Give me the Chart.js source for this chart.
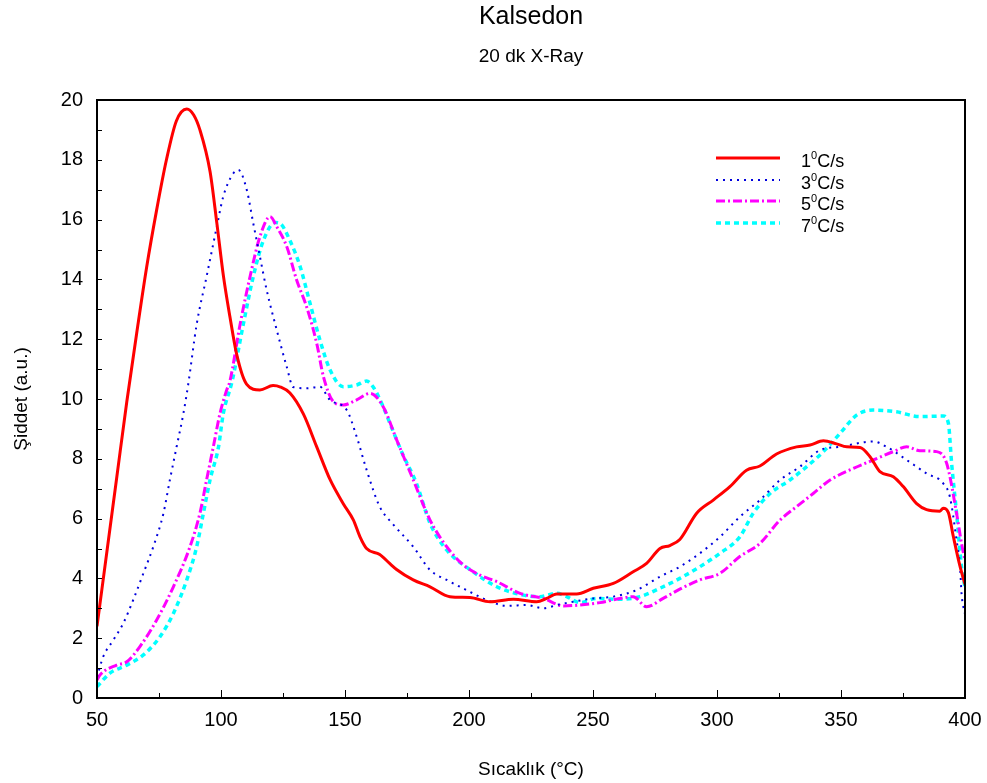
<!DOCTYPE html>
<html>
<head>
<meta charset="utf-8">
<title>Kalsedon</title>
<script src="https://cdn.jsdelivr.net/npm/chart.js@4.4.1/dist/chart.umd.min.js"></script>
<style>
    html, body { margin: 0; padding: 0; background: #fff; }
    #wrap { width: 987px; height: 783px; }
</style>
</head>
<body>
<div id="wrap"><canvas id="tlChart" width="987" height="783"></canvas></div>
<script>
// Heating rates (legend labels: number, then superscript 0, then C/s)
const RATES = ['1', '3', '5', '7'];

// 1 C/s
const redT = [50, 54, 58, 62, 66, 70, 74, 78, 82, 86.2, 89, 91.5, 95.6, 98.3, 101, 103.6, 106.3, 110.3, 115.7,
    121, 124, 127.8, 133.2, 138.6, 144, 149.3, 153.4, 156, 158.7, 164, 168, 170.8, 177.5, 184.3, 192.3, 200.4, 208.5, 217.9, 227.3,
    231.3, 235.4, 243.4, 250.1, 258.2, 266.2, 271.6, 277, 281, 285, 291.8, 298.5, 305.2, 311.9, 317.3, 324, 332.1, 337.5, 342.9, 348.2,
    352.3, 357.7, 361.7, 365.7, 371.1, 375.1, 380.5, 384.5, 389.9, 391.2, 393.3, 395.3, 398, 400];
const redI = [2.4, 4.9, 7.4, 9.9, 12.2, 14.4, 16.3, 18.0, 19.3, 19.7, 19.5, 19.0, 17.6, 15.9, 14.1, 12.75, 11.5, 10.5, 10.3,
    10.45, 10.4, 10.2, 9.5, 8.4, 7.3, 6.5, 5.95, 5.4, 5.0, 4.8, 4.5, 4.3, 3.95, 3.72, 3.39, 3.36, 3.22, 3.3, 3.22,
    3.33, 3.48, 3.48, 3.67, 3.83, 4.22, 4.5, 5.0, 5.1, 5.3, 6.18, 6.62, 7.07, 7.62, 7.76, 8.16, 8.4, 8.46, 8.6, 8.5,
    8.4, 8.38, 8.07, 7.57, 7.4, 7.07, 6.5, 6.3, 6.25, 6.35, 6.2, 5.4, 4.4, 3.8];

// 3 C/s
const blueT = [50, 52.5, 56.6, 60.6, 64.6, 68.7, 72.7, 76.8, 79.4, 82.1, 84.8, 86.8, 90.2, 94.2, 98.3, 100.9, 105, 107, 110.4, 113,
    115.7, 118.4, 122.5, 126.5, 129.1, 134.5, 139.9, 143.9, 150.7, 154.7, 158.7, 164, 169.5, 177.5, 184.3, 191, 199, 207.1, 215.2, 223.2,
    230, 235.4, 242.1, 250.1, 258.2, 267.6, 277, 285, 293.1, 301.2, 309.2, 317.3, 325.4, 333.5, 341.5, 349.6, 363, 368.4, 376.5, 384.5,
    391.2, 393.9, 396.6, 398, 398.6, 400];
const blueI = [0.7, 1.38, 1.94, 2.5, 3.28, 4.17, 5.06, 6.18, 7.3, 8.4, 9.5, 10.5, 12.5, 14.1, 15.76, 16.77, 17.55, 17.66, 16.99, 15.88,
    14.76, 13.65, 12.3, 11.08, 10.4, 10.36, 10.41, 9.97, 9.63, 8.74, 7.63, 6.4, 5.8, 5.06, 4.28, 3.95, 3.61, 3.28, 3.08, 3.11,
    3.0, 3.11, 3.22, 3.33, 3.39, 3.61, 4.06, 4.39, 4.84, 5.39, 6.06, 6.62, 7.29, 7.74, 8.29, 8.4, 8.58, 8.4, 7.96, 7.51,
    7.18, 6.73, 5.28, 4.39, 3.5, 2.8];

// 5 C/s
const magT = [50, 51.2, 57.9, 62, 67.3, 74, 80.8, 87.5, 91.5, 94.2, 96.9, 99.6, 102.3, 103.6, 107.7, 111.7, 115.7, 119.8, 122.5, 126.5,
    130.5, 134.5, 138.6, 141.3, 145.4, 149.3, 154.7, 160.1, 165.4, 171, 177.5, 184.3, 191, 197.7, 204.4, 211.2, 220.6, 230, 238.1, 244.8,
    252.8, 260.9, 266.2, 271.6, 278.3, 285, 293.1, 301.2, 309.2, 317.3, 325.4, 332.1, 338.8, 345.6, 355, 363, 371.1, 376.5, 381.8, 388.6,
    392.6, 396.6, 398.6, 400];
const magI = [0.6, 0.77, 1.1, 1.21, 1.72, 2.6, 3.72, 5.06, 6.18, 7.3, 8.4, 9.52, 10.3, 10.6, 12.5, 14.09, 15.43, 16.1, 15.76, 15.1,
    13.98, 13.09, 11.86, 10.75, 9.9, 9.8, 9.97, 10.19, 9.74, 8.6, 7.3, 5.95, 5.06, 4.45, 4.11, 3.89, 3.5, 3.33, 3.08, 3.11,
    3.19, 3.33, 3.39, 3.05, 3.33, 3.64, 3.95, 4.17, 4.73, 5.17, 5.95, 6.4, 6.84, 7.29, 7.68, 7.96, 8.24, 8.4, 8.27, 8.24,
    7.85, 6.18, 5.17, 4.6];

// 7 C/s
const cyanT = [50, 55.2, 62, 68.7, 75.4, 80.8, 86.2, 90.2, 92.9, 95.6, 99, 100.9, 104.5, 109, 113, 117.1, 121.8, 123.8, 127.8, 131.9,
    135.9, 139.9, 144, 149.3, 154.7, 158.7, 161.3, 165.4, 168.1, 173, 178.8, 184.3, 191, 201.7, 211.2, 221.9, 228.6, 235.4, 239.4, 244.8,
    251.5, 260.9, 268.9, 277, 285, 293.1, 301.2, 309.2, 314.6, 321.4, 329.4, 336.2, 342.9, 349.6, 356.3, 363, 372.4, 381.8, 391.2, 393.3,
    394.6, 396.6, 398.6, 400];
const cyanI = [0.38, 0.83, 1.1, 1.44, 2.05, 2.83, 3.95, 5.06, 6.18, 7.3, 8.4, 9.5, 10.6, 12.5, 14.09, 15.3, 15.9, 15.87, 15.3, 14.43,
    13.2, 11.97, 10.97, 10.41, 10.47, 10.6, 10.41, 9.74, 9.19, 8.2, 7.18, 5.84, 4.95, 4.22, 3.72, 3.44, 3.39, 3.5, 3.39, 3.19,
    3.33, 3.3, 3.39, 3.67, 4.0, 4.39, 4.84, 5.39, 6.18, 6.84, 7.29, 7.74, 8.24, 8.85, 9.46, 9.63, 9.57, 9.41, 9.43, 9.19,
    7.85, 6.18, 4.39, 3.7];

const FONT = 'Arial, "Liberation Sans", sans-serif';

function toPoints(xs, ys) {
    return xs.map((x, i) => ({ x: x, y: ys[i] }));
}

// frame around the plot + tick marks pointing inwards
const frameAndTicks = {
    id: 'frameAndTicks',
    afterDatasetsDraw(chart) {
        const ctx = chart.ctx;
        const a = chart.chartArea;
        const xs = chart.scales.x;
        const ys = chart.scales.y;
        ctx.save();
        ctx.strokeStyle = '#000';
        ctx.lineWidth = 1;
        for (let v = 75; v < 400; v += 25) {
            const px = Math.round(xs.getPixelForValue(v)) + 0.5;
            const len = v % 50 === 0 ? 8 : 5;
            ctx.beginPath();
            ctx.moveTo(px, a.bottom);
            ctx.lineTo(px, a.bottom - len);
            ctx.stroke();
        }
        for (let v = 1; v < 20; v++) {
            const py = Math.round(ys.getPixelForValue(v)) + 0.5;
            ctx.beginPath();
            ctx.moveTo(a.left, py);
            ctx.lineTo(a.left + 5, py);
            ctx.stroke();
        }
        ctx.lineWidth = 2;
        ctx.strokeRect(a.left, a.top, a.right - a.left, a.bottom - a.top);
        ctx.restore();
    }
};

// legend in the upper right, with raised 0 for the degree sign
const rateLegend = {
    id: 'rateLegend',
    afterDraw(chart) {
        const ctx = chart.ctx;
        const x0 = 716, x1 = 780, tx = 801;
        const rows = [158, 180, 201, 223];
        ctx.save();
        chart.data.datasets.forEach((ds, i) => {
            const y = rows[i];
            ctx.strokeStyle = ds.borderColor;
            ctx.lineWidth = ds.borderWidth;
            ctx.setLineDash(ds.borderDash || []);
            ctx.beginPath();
            ctx.moveTo(x0, y);
            ctx.lineTo(x1, y);
            ctx.stroke();
            ctx.setLineDash([]);
            ctx.fillStyle = '#000';
            ctx.textBaseline = 'alphabetic';
            ctx.font = '18px ' + FONT;
            let cx = tx;
            ctx.fillText(RATES[i], cx, y + 8.5);
            cx += ctx.measureText(RATES[i]).width;
            ctx.font = '11px ' + FONT;
            ctx.fillText('0', cx, y + 0.5);
            cx += ctx.measureText('0').width;
            ctx.font = '18px ' + FONT;
            ctx.fillText('C/s', cx, y + 8.5);
        });
        ctx.restore();
    }
};

function initChart() {
    const ctx = document.getElementById('tlChart').getContext('2d');
    new Chart(ctx, {
        type: 'line',
        data: {
            datasets: [
                { data: toPoints(redT, redI), borderColor: '#ff0000', borderWidth: 3 },
                { data: toPoints(blueT, blueI), borderColor: '#0000dd', borderWidth: 2, borderDash: [2, 5] },
                { data: toPoints(magT, magI), borderColor: '#ff00ff', borderWidth: 3, borderDash: [9, 3, 2, 3] },
                { data: toPoints(cyanT, cyanI), borderColor: '#00ffff', borderWidth: 3.5, borderDash: [5, 4] }
            ]
        },
        options: {
            responsive: false,
            animation: false,
            elements: {
                point: { radius: 0 },
                line: { cubicInterpolationMode: 'monotone', fill: false }
            },
            layout: { padding: { top: 2, right: 22, left: 0, bottom: 0 } },
            scales: {
                x: {
                    type: 'linear',
                    min: 50,
                    max: 400,
                    afterFit: (s) => { s.height = 85; s.paddingRight = 0; s.paddingLeft = 0; },
                    grid: { display: false, drawTicks: false },
                    border: { display: false },
                    ticks: { stepSize: 50, padding: 10, color: '#000', font: { family: FONT, size: 20 } },
                    title: {
                        display: true,
                        text: 'Sıcaklık (°C)',
                        color: '#000',
                        font: { family: FONT, size: 19 },
                        padding: { top: 0, bottom: 2 }
                    }
                },
                y: {
                    min: 0,
                    max: 20,
                    afterFit: (s) => { s.width = 97; },
                    grid: { display: false, drawTicks: false },
                    border: { display: false },
                    ticks: { stepSize: 2, padding: 14, color: '#000', font: { family: FONT, size: 20 } },
                    title: {
                        display: true,
                        text: 'Şiddet (a.u.)',
                        color: '#000',
                        font: { family: FONT, size: 19 },
                        padding: { top: 10, bottom: 0 }
                    }
                }
            },
            plugins: {
                legend: { display: false },
                tooltip: { enabled: false },
                title: {
                    display: true,
                    fullSize: false,
                    text: 'Kalsedon',
                    color: '#000',
                    font: { family: FONT, size: 25, weight: 'normal' },
                    padding: { top: 0, bottom: 13.6 }
                },
                subtitle: {
                    display: true,
                    fullSize: false,
                    text: '20 dk X-Ray',
                    color: '#000',
                    font: { family: FONT, size: 19 },
                    padding: { top: 0, bottom: 31.6 }
                }
            }
        },
        plugins: [frameAndTicks, rateLegend]
    });
}

document.addEventListener('DOMContentLoaded', initChart);
</script>
</body>
</html>
